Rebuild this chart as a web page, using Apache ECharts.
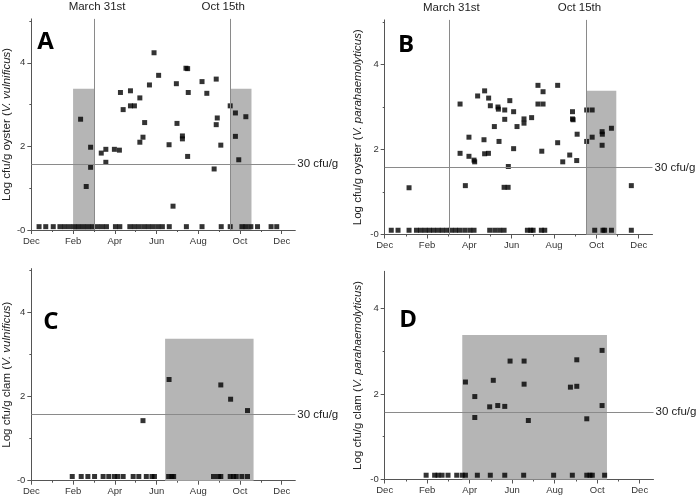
<!DOCTYPE html>
<html><head><meta charset="utf-8">
<script src="https://cdn.jsdelivr.net/npm/echarts@6/dist/echarts.min.js"></script>
<style>html,body{margin:0;padding:0;background:#fff}#c{width:696px;height:498px}</style>
</head><body><div id="c"></div>
<script>
// ---- data (x = months since start of Dec, y = log cfu/g) ----
const xTickLabels = ['Dec', 'Feb', 'Apr', 'Jun', 'Aug', 'Oct', 'Dec'];
const yTickValues = [0, 2, 4];
const cutoffLog = 1.58;
const cutoffLabel = '30 cfu/g';
const seasonMonths = [3.03, 9.53];
const seasonLabels = ['March 31st', 'Oct 15th'];
const closureTop = 3.38;

// Panel A: oyster, V. vulnificus
const aZeroMonth = [0.37,0.69,1.05,1.37,1.59,1.82,2.04,2.26,2.49,2.71,2.93,3.16,3.38,3.60,4.03,4.24,4.72,4.94,5.16,5.39,5.61,5.83,6.06,6.28,6.61,7.43,8.18,9.10,9.53,10.09,10.29,10.52,10.84,11.49,11.76];
const aZeroLog = [0.08,0.08,0.08,0.08,0.08,0.08,0.08,0.08,0.08,0.08,0.08,0.08,0.08,0.08,0.08,0.08,0.08,0.08,0.08,0.08,0.08,0.08,0.08,0.08,0.08,0.08,0.08,0.08,0.08,0.08,0.08,0.08,0.08,0.08,0.08];
const aMonth = [2.36,2.63,2.84,2.84,3.35,3.57,3.57,3.98,4.22,4.27,4.40,4.75,4.75,4.94,5.20,5.20,5.35,5.43,5.66,5.88,6.10,6.60,6.79,6.95,6.98,7.24,7.24,7.41,7.49,7.49,7.52,8.18,8.41,8.76,8.86,8.86,8.91,9.08,9.53,9.78,9.78,9.94,10.28];
const aLog = [2.65,1.04,1.98,1.50,1.84,1.93,1.62,1.93,1.91,3.29,2.88,3.33,2.97,2.97,3.16,2.10,2.22,2.57,3.47,4.24,3.70,2.04,0.57,3.50,2.55,2.25,2.18,3.87,3.86,1.76,3.29,3.55,3.27,1.46,3.61,2.52,2.68,2.03,2.97,2.80,2.24,1.68,2.71];
const aClosures = [[2.0, 3.04], [9.53, 10.55]];

// Panel B: oyster, V. parahaemolyticus
const bZeroMonth = [0.31,0.63,1.15,1.50,1.70,1.91,2.11,2.31,2.52,2.72,2.93,3.13,3.34,3.54,3.78,4.02,4.22,4.96,5.20,5.43,5.64,6.74,6.90,7.01,7.40,7.56,9.92,10.31,10.39,10.71,11.65];
const bZeroLog = [0.1,0.1,0.1,0.1,0.1,0.1,0.1,0.1,0.1,0.1,0.1,0.1,0.1,0.1,0.1,0.1,0.1,0.1,0.1,0.1,0.1,0.1,0.1,0.1,0.1,0.1,0.1,0.1,0.1,0.1,0.1];
const bMonth = [1.15,3.56,3.56,3.81,3.98,3.98,4.22,4.25,4.39,4.72,4.69,4.72,4.90,4.91,4.99,5.18,5.35,5.37,5.40,5.67,5.67,5.64,5.83,5.84,5.91,6.09,6.09,6.25,6.58,6.58,6.94,7.24,7.24,7.48,7.48,7.42,8.17,8.17,8.41,8.74,8.87,8.87,8.90,9.09,9.07,9.54,9.80,9.54,9.80,10.27,10.28,10.27,10.71,11.65];
const bLog = [1.10,3.07,1.91,1.15,2.29,1.84,1.75,1.71,3.26,3.38,2.23,1.90,1.91,3.21,3.03,2.54,3.00,2.95,2.19,2.93,2.71,1.11,1.11,1.60,3.15,2.89,2.02,2.54,2.72,2.62,2.75,3.51,3.07,3.36,3.07,1.96,3.51,2.16,1.71,1.87,2.89,2.72,2.70,2.36,1.74,2.93,2.93,2.19,2.29,2.42,2.36,2.10,2.50,1.15];
const bClosures = [[9.53, 10.94]];

// Panel C: clam, V. vulnificus
const cZeroMonth = [1.96,2.39,2.71,3.03,3.44,3.71,3.98,4.14,4.40,4.88,5.15,5.51,5.78,5.90,6.58,6.74,6.82,8.73,8.97,9.08,9.53,9.69,9.82,10.09,10.36];
const cZeroLog = [0.1,0.1,0.1,0.1,0.1,0.1,0.1,0.1,0.1,0.1,0.1,0.1,0.1,0.1,0.1,0.1,0.1,0.1,0.1,0.1,0.1,0.1,0.1,0.1,0.1];
const cMonth = [5.35,6.60,9.08,9.55,10.36];
const cLog = [1.43,2.41,2.28,1.94,1.67];
const cClosures = [[6.41, 10.65]];

// Panel D: clam, V. parahaemolyticus
const dZeroMonth = [1.95,2.35,2.51,2.70,2.98,3.39,3.65,3.80,4.36,4.97,5.65,6.54,7.95,8.83,9.51,9.66,9.77,10.35];
const dZeroLog = [0.1,0.1,0.1,0.1,0.1,0.1,0.1,0.1,0.1,0.1,0.1,0.1,0.1,0.1,0.1,0.1,0.1,0.1];
const dMonth = [3.80,4.24,4.24,4.94,5.11,5.32,5.65,5.90,6.56,6.56,6.76,8.74,9.04,9.04,9.51,10.23,10.23];
const dLog = [2.28,1.94,1.45,1.70,2.32,1.73,1.71,2.77,2.77,2.23,1.38,2.16,2.80,2.18,1.42,3.02,1.73];
const dClosures = [[3.65, 10.46]];

// ---- chart ----
const FONT = '"Liberation Sans", Arial, sans-serif';
const AXIS_COLOR = '#555';
const TEXT_COLOR = '#222';
const LINE_COLOR = '#8a8a8a';

function zip(xs, ys) { return xs.map((x, i) => [x, ys[i]]); }

const panels = [
  { letter: 'A', grid: {left: 30.7, top: 18.9, width: 264.6, height: 211.1}, yMax: 5.05,
    name: 'Log cfu/g oyster ({i|V. vulnificus})', nameGap: 16.5, season: true,
    zeros: zip(aZeroMonth, aZeroLog), pts: zip(aMonth, aLog), closures: aClosures,
    letterPos: [37.3, 30] },
  { letter: 'B', grid: {left: 384.7, top: 19.9, width: 267.8, height: 214.6}, yMax: 5.05,
    name: 'Log cfu/g oyster ({i|V. parahaemolyticus})', nameGap: 20.5, season: true,
    zeros: zip(bZeroMonth, bZeroLog), pts: zip(bMonth, bLog), closures: bClosures,
    letterPos: [398, 33] },
  { letter: 'C', grid: {left: 30.7, top: 268.6, width: 264.6, height: 212.1}, yMax: 5.05,
    name: 'Log cfu/g clam ({i|V. vulnificus})', nameGap: 17, season: false,
    zeros: zip(cZeroMonth, cZeroLog), pts: zip(cMonth, cLog), closures: cClosures,
    letterPos: [43.3, 310.5] },
  { letter: 'D', grid: {left: 384.7, top: 271.3, width: 268.8, height: 208.2}, yMax: 4.87,
    name: 'Log cfu/g clam ({i|V. parahaemolyticus})', nameGap: 20.5, season: false,
    zeros: zip(dZeroMonth, dZeroLog), pts: zip(dMonth, dLog), closures: dClosures,
    letterPos: [399.3, 308] }
];

const grids = [], xAxes = [], yAxes = [], series = [], graphics = [];
const xTickValues = xTickLabels.map((_, i) => i * 2);

panels.forEach((p, i) => {
  grids.push(p.grid);
  xAxes.push({
    type: 'value', gridIndex: i, min: 0, max: 12.65, interval: 2,
    axisLine: {show: true, onZero: false, lineStyle: {color: AXIS_COLOR, width: 1}},
    axisTick: {show: true, length: 4, customValues: xTickValues, lineStyle: {color: AXIS_COLOR}},
    minorTick: {show: true, splitNumber: 2, length: 2, lineStyle: {color: AXIS_COLOR}},
    splitLine: {show: false}, minorSplitLine: {show: false},
    axisLabel: {
      customValues: xTickValues, margin: 6, fontSize: 9.5, color: '#333', fontFamily: FONT,
      formatter: v => xTickLabels[Math.round(v / 2)] || ''
    }
  });
  yAxes.push({
    type: 'value', gridIndex: i, min: 0, max: p.yMax, interval: 2,
    name: p.name, nameLocation: 'middle', nameGap: p.nameGap,
    nameTextStyle: {fontSize: 11.5, color: TEXT_COLOR, fontFamily: FONT,
      rich: {i: {fontStyle: 'italic', fontSize: 11.5, color: TEXT_COLOR, fontFamily: FONT}}},
    axisLine: {show: true, onZero: false, lineStyle: {color: AXIS_COLOR, width: 1}},
    axisTick: {show: true, length: 4, customValues: yTickValues, lineStyle: {color: AXIS_COLOR}},
    minorTick: {show: true, splitNumber: 2, length: 2, lineStyle: {color: AXIS_COLOR}},
    splitLine: {show: false}, minorSplitLine: {show: false},
    axisLabel: {
      customValues: yTickValues, margin: 6, fontSize: 9.5, color: '#333', fontFamily: FONT,
      formatter: v => (v === 0 ? '-0' : (v % 2 === 0 ? String(v) : ''))
    }
  });

  // closure areas
  series.push({
    type: 'scatter', xAxisIndex: i, yAxisIndex: i, data: [], z: 1, silent: true,
    markArea: {
      silent: true,
      itemStyle: {color: '#b5b5b5', borderWidth: 0},
      data: p.closures.map(c => [{xAxis: c[0], yAxis: 0}, {xAxis: c[1], yAxis: closureTop}])
    }
  });

  // reference lines
  const lines = [{
    yAxis: cutoffLog, name: cutoffLabel,
    label: {show: true, position: 'end', distance: 2, formatter: '{b}', fontSize: 11.5, color: TEXT_COLOR, fontFamily: FONT}
  }];
  if (p.season) {
    seasonMonths.forEach((m, k) => {
      lines.push({
        xAxis: m, name: seasonLabels[k],
        label: {show: true, position: 'end', distance: 6, formatter: '{b}', fontSize: 11.5,
          color: TEXT_COLOR, fontFamily: FONT, offset: [k === 0 ? 2.5 : -7, 0]}
      });
    });
  }
  series.push({
    type: 'scatter', xAxisIndex: i, yAxisIndex: i, data: [], z: 2, silent: true,
    markLine: {
      silent: true, symbol: ['none', 'none'], animation: false,
      lineStyle: {color: LINE_COLOR, width: 1, type: 'solid'},
      data: lines
    }
  });

  // points
  series.push({
    type: 'scatter', xAxisIndex: i, yAxisIndex: i, z: 3,
    symbol: 'rect', symbolSize: 5,
    itemStyle: {color: '#000'},
    data: p.zeros.concat(p.pts)
  });

  graphics.push({
    type: 'text', left: p.letterPos[0], top: p.letterPos[1], z: 10,
    style: {text: p.letter, fontSize: 24, fontWeight: 'bold', fontFamily: '"Open Sans", Lato, sans-serif', fill: '#000'}
  });
});

const chart = echarts.init(document.getElementById('c'), null, {renderer: 'canvas'});
chart.setOption({
  animation: false,
  backgroundColor: '#fff',
  textStyle: {fontFamily: FONT},
  grid: grids, xAxis: xAxes, yAxis: yAxes, series: series, graphic: graphics
});
</script></body></html>
